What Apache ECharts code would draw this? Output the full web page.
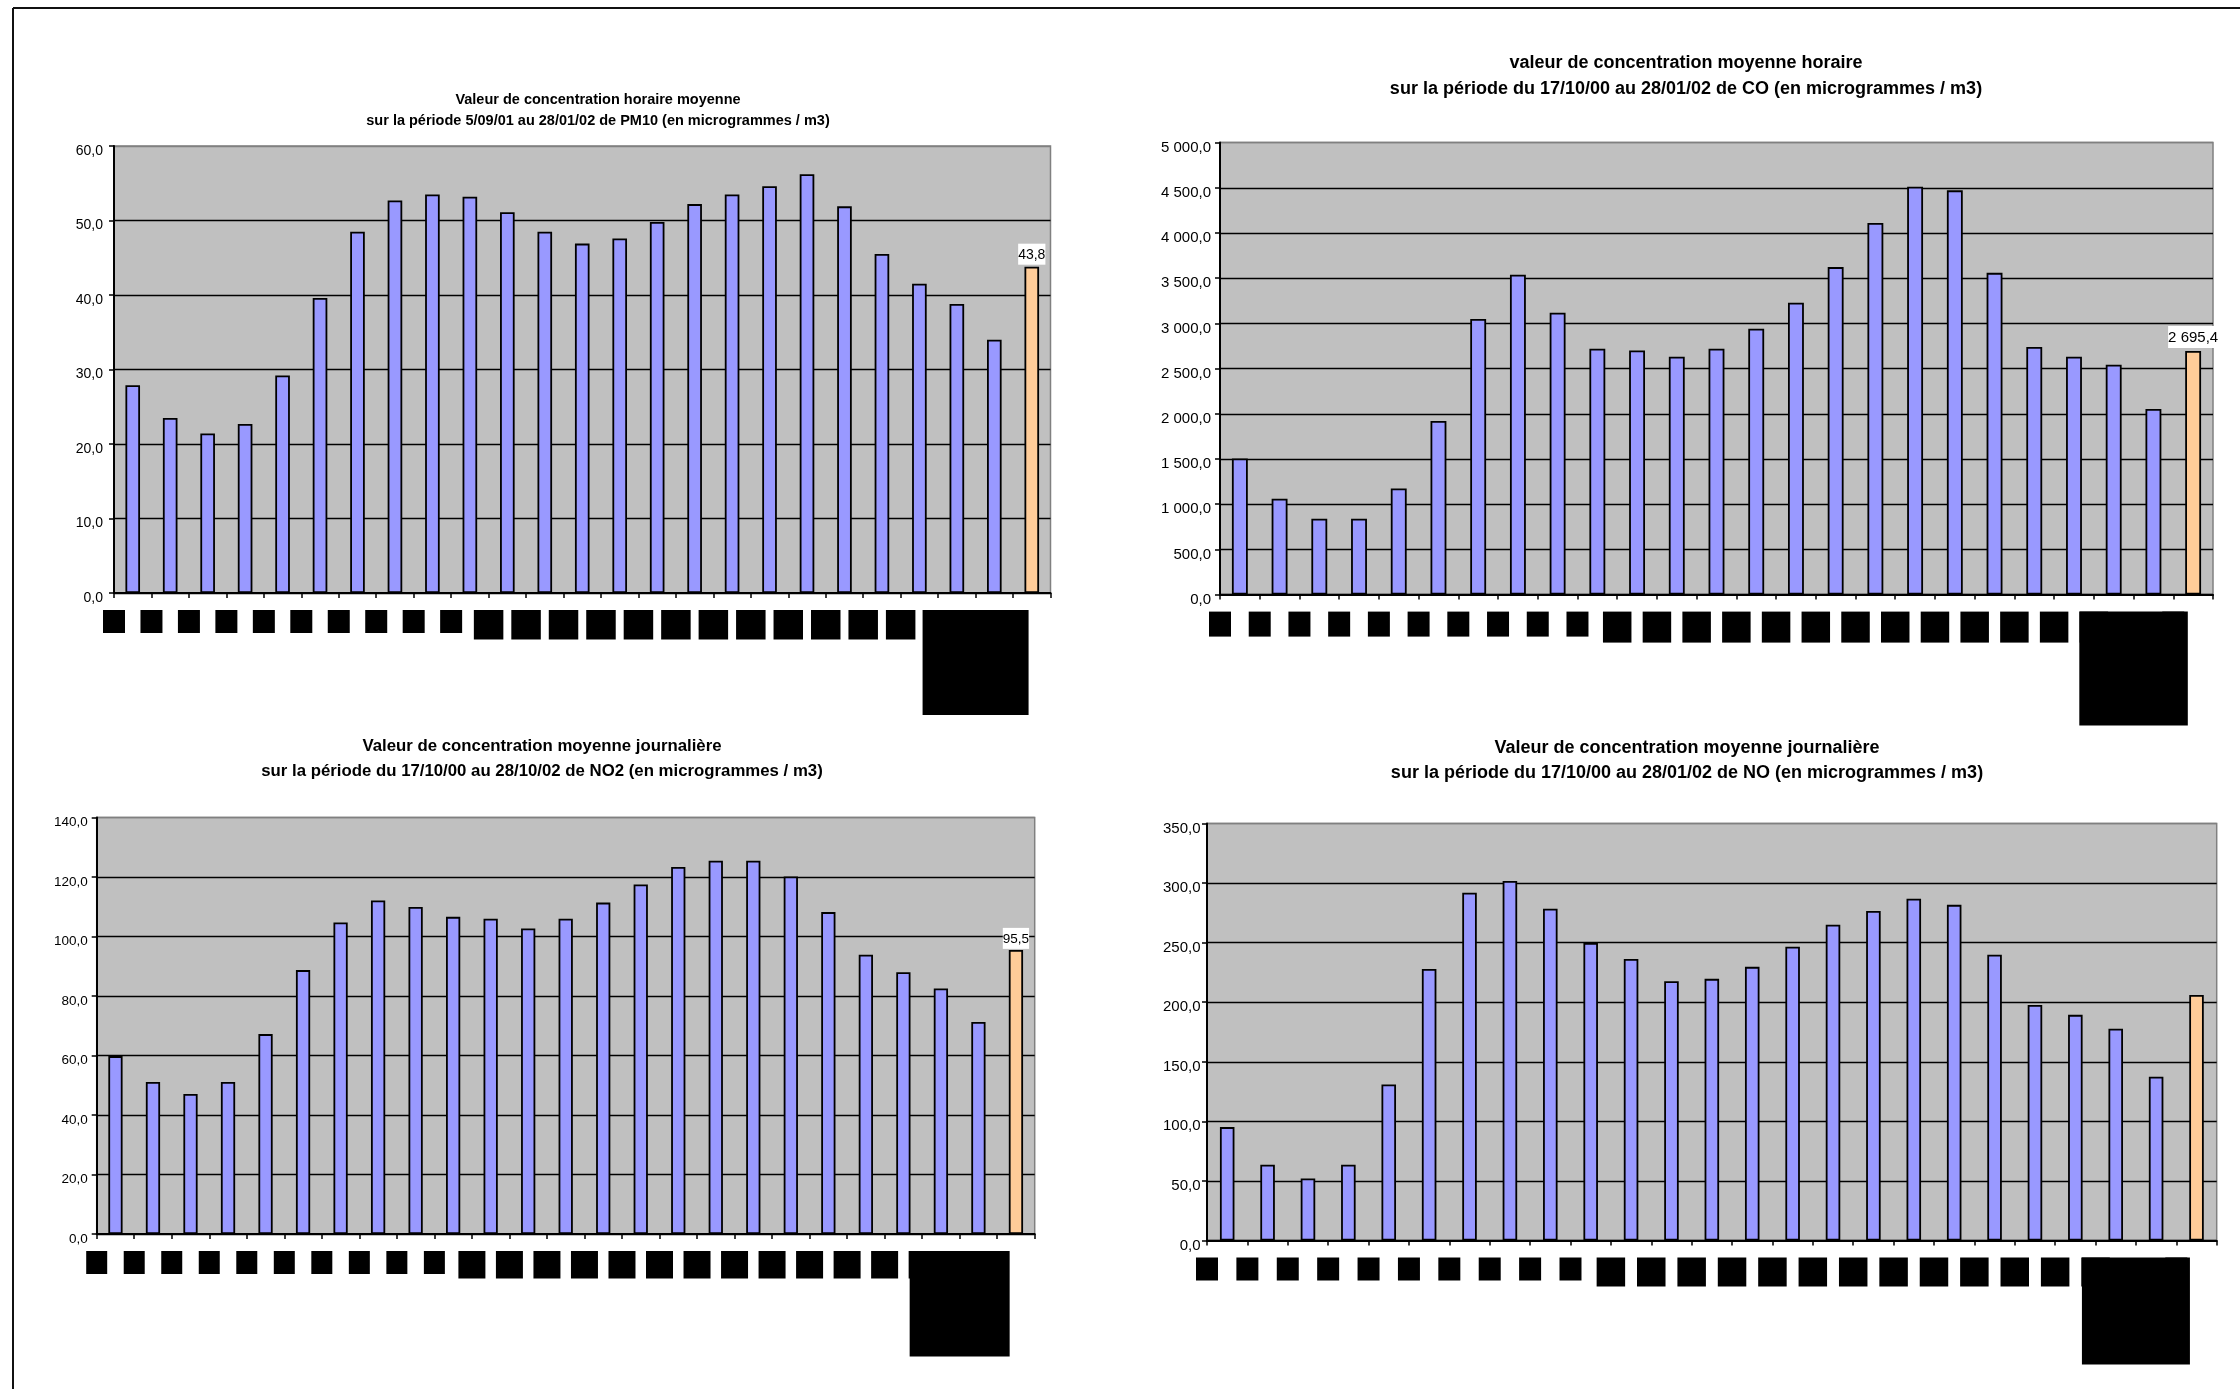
<!DOCTYPE html>
<html>
<head>
<meta charset="utf-8">
<title>Concentrations moyennes horaires et journalières</title>
<script src="https://cdn.jsdelivr.net/npm/echarts@6/dist/echarts.min.js"></script>
<style>
  html, body { margin: 0; padding: 0; background: #fff; }
  #chart { width: 2240px; height: 1389px; }
</style>
</head>
<body>
<div id="chart"></div>
<script>
// Hour slots (labels are masked as black blocks) followed by the period average
const categories = ['0 h', '1 h', '2 h', '3 h', '4 h', '5 h', '6 h', '7 h', '8 h', '9 h',
  '10 h', '11 h', '12 h', '13 h', '14 h', '15 h', '16 h', '17 h', '18 h', '19 h',
  '20 h', '21 h', '22 h', '23 h', 'Moyenne'];

// PM10, hourly mean (µg/m3) - last value is the overall average
const pm10Values = [27.9, 23.5, 21.4, 22.7, 29.2, 39.6, 48.5, 52.7, 53.5, 53.2,
  51.1, 48.5, 46.9, 47.6, 49.8, 52.2, 53.5, 54.6, 56.2, 51.9,
  45.5, 41.5, 38.8, 34.0, 43.8];

// CO, hourly mean (µg/m3)
const coValues = [1505, 1061, 839, 839, 1175, 1920, 3050, 3539, 3119, 2720,
  2700, 2631, 2720, 2942, 3228, 3623, 4112, 4511, 4472, 3559,
  2739, 2631, 2542, 2053, 2695.4];

// NO2, daily mean profile (µg/m3)
const no2Values = [59.8, 51.1, 47.1, 51.1, 67.2, 88.7, 104.7, 112.1, 109.9, 106.6,
  106.0, 102.7, 106.0, 111.4, 117.5, 123.4, 125.5, 125.5, 120.2, 108.2,
  93.9, 88.0, 82.5, 71.3, 95.5];

// NO, daily mean profile (µg/m3)
const noValues = [95.2, 63.6, 52.0, 63.6, 130.9, 227.9, 291.9, 301.7, 278.4, 249.7,
  236.3, 217.7, 219.6, 229.7, 246.5, 265.0, 276.6, 286.8, 281.7, 239.9,
  197.7, 189.4, 177.7, 137.4, 206.1];

// Value axis ranges: [max, step]
const pm10Axis = [60, 10];
const coAxis = [5000, 500];
const no2Axis = [140, 20];
const noAxis = [350, 50];

const titles = [
  'Valeur de concentration horaire moyenne\nsur la période 5/09/01 au 28/01/02 de PM10 (en microgrammes / m3)',
  'valeur de concentration moyenne horaire\nsur la période du 17/10/00 au 28/01/02 de CO (en microgrammes / m3)',
  'Valeur de concentration moyenne journalière\nsur la période du 17/10/00 au 28/10/02 de NO2 (en microgrammes / m3)',
  'Valeur de concentration moyenne journalière\nsur la période du 17/10/00 au 28/01/02 de NO (en microgrammes / m3)'
];

const FONT = 'Liberation Sans, Arial, Helvetica, sans-serif';
const BLUE = '#9999FF';
const ORANGE = '#FFCC99';

// French number format: "2 695,4"
function fr(v) {
  const parts = Number(v).toFixed(1).split('.');
  return parts[0].replace(/\B(?=(\d{3})+(?!\d))/g, ' ') + ',' + parts[1];
}

// Panel layout and styling
const panels = [
  { values: pm10Values, axis: pm10Axis, title: titles[0],
    grid: { left: 114, top: 146, width: 936.5, height: 447 },
    titleX: 598, titleY: 90, titleSize: 14.5, titleLH: 20.5,
    yFont: 14, yMargin: 11, barWidth: '39%', valueLabel: { size: 14, dist: 2 },
    boxes: { small: [22, 23], wide: [29.5, 29.5], big: [106, 105] } },
  { values: coValues, axis: coAxis, title: titles[1],
    grid: { left: 1220, top: 142.6, width: 993, height: 452 },
    titleX: 1686, titleY: 50.5, titleSize: 18, titleLH: 26,
    yFont: 15, yMargin: 9, barWidth: '40%', valueLabel: { size: 15, dist: 3 },
    boxes: { small: [22, 25], wide: [28.5, 31], big: [108.5, 114] } },
  { values: no2Values, axis: no2Axis, title: titles[2],
    grid: { left: 96.7, top: 817.5, width: 938, height: 416.5 },
    titleX: 542, titleY: 734, titleSize: 16.8, titleLH: 25,
    yFont: 13.5, yMargin: 9, barWidth: '38%', valueLabel: { size: 13.5, dist: 1 },
    boxes: { small: [21, 23], wide: [27, 27.5], big: [100, 105.5] } },
  { values: noValues, axis: noAxis, title: titles[3],
    grid: { left: 1207, top: 823.5, width: 1009.7, height: 417 },
    titleX: 1687, titleY: 735.5, titleSize: 18, titleLH: 25,
    yFont: 15, yMargin: 6.5, barWidth: '36%', valueLabel: null,
    boxes: { small: [22, 23], wide: [28.5, 29], big: [108, 107] } }
];

const option = {
  backgroundColor: '#fff',
  animation: false,
  title: [],
  grid: [],
  xAxis: [],
  yAxis: [],
  series: [],
  graphic: [
    // page frame
    { type: 'line', shape: { x1: 13, y1: 8, x2: 2240, y2: 8 }, style: { stroke: '#111', lineWidth: 2 } },
    { type: 'line', shape: { x1: 13, y1: 8, x2: 13, y2: 1389 }, style: { stroke: '#111', lineWidth: 2 } }
  ]
};

panels.forEach(function (p, k) {
  const catW = p.grid.width / categories.length;
  const nTicks = p.axis[0] / p.axis[1] + 1;
  const splitColors = [];
  for (let i = 0; i < nTicks; i++) splitColors.push(i === nTicks - 1 ? '#808080' : '#000');

  // masked category labels: black blocks centred on the category boundaries
  const box = function (wh) {
    return { width: wh[0], height: wh[1], lineHeight: wh[1], backgroundColor: '#000',
      color: '#000', fontSize: 4, align: 'center', verticalAlign: 'top' };
  };

  option.title.push({
    text: p.title,
    left: p.titleX,
    top: p.titleY,
    textAlign: 'center',
    padding: 0,
    textStyle: { fontFamily: FONT, fontWeight: 'bold', fontSize: p.titleSize,
      lineHeight: p.titleLH, color: '#000' }
  });

  option.grid.push(Object.assign({
    show: true, backgroundColor: '#C0C0C0', borderColor: '#808080', borderWidth: 1.5,
    containLabel: false
  }, p.grid));

  option.xAxis.push({
    type: 'category',
    gridIndex: k,
    data: categories,
    boundaryGap: true,
    axisLine: { show: true, lineStyle: { color: '#000', width: 2 } },
    axisTick: { show: true, length: 5, lineStyle: { color: '#000', width: 1.5 } },
    splitLine: { show: false },
    axisLabel: {
      interval: 0,
      margin: 17,
      formatter: function (value, index) {
        const st = index === 23 ? 'big' : (index < 10 || index === 24 ? 'small' : 'wide');
        return '{' + st + '|' + value + '}{sp|}';
      },
      rich: {
        small: box(p.boxes.small),
        wide: box(p.boxes.wide),
        big: box(p.boxes.big),
        sp: { width: catW, height: 1, fontSize: 1 }
      }
    }
  });

  option.yAxis.push({
    type: 'value',
    gridIndex: k,
    min: 0,
    max: p.axis[0],
    interval: p.axis[1],
    axisLine: { show: true, lineStyle: { color: '#000', width: 2 } },
    axisTick: { show: true, length: 5, lineStyle: { color: '#000', width: 1.5 } },
    splitLine: { show: true, lineStyle: { color: splitColors, width: 1.3 } },
    axisLabel: {
      formatter: fr,
      fontFamily: FONT,
      fontSize: p.yFont,
      color: '#000',
      margin: p.yMargin,
      verticalAlign: 'top',
      lineHeight: 10
    }
  });

  const last = p.values.length - 1;
  option.series.push({
    type: 'bar',
    xAxisIndex: k,
    yAxisIndex: k,
    barWidth: p.barWidth,
    itemStyle: { color: BLUE, borderColor: '#000', borderWidth: 1.8 },
    data: p.values.map(function (v, i) {
      if (i !== last) return v;
      const item = { value: v, itemStyle: { color: ORANGE, borderColor: '#000', borderWidth: 1.8 } };
      if (p.valueLabel) {
        item.label = {
          show: true, position: 'top', distance: p.valueLabel.dist,
          formatter: function (d) { return fr(d.value); },
          fontFamily: FONT, fontSize: p.valueLabel.size, color: '#000',
          backgroundColor: '#fff', padding: [4, 0, 3, 0]
        };
      }
      return item;
    })
  });
});

const chart = echarts.init(document.getElementById('chart'), null, { renderer: 'canvas' });
chart.setOption(option);
</script>
</body>
</html>
